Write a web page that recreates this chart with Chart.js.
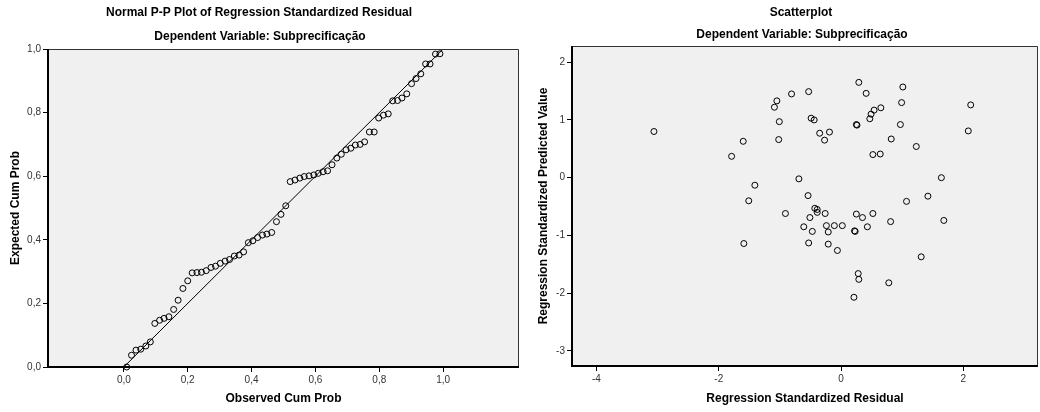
<!DOCTYPE html>
<html><head><meta charset="utf-8">
<script src="https://cdn.jsdelivr.net/npm/chart.js@4/dist/chart.umd.min.js"></script>
<style>
html,body{margin:0;padding:0;background:#fff;width:1040px;height:412px;overflow:hidden}
#wrapL{position:absolute;left:0;top:0;width:520px;height:412px}
#wrapR{position:absolute;left:520px;top:0;width:520px;height:412px}
</style></head><body>
<div id="wrapL"><canvas id="ppCanvas" width="520" height="412"></canvas></div>
<div id="wrapR"><canvas id="scCanvas" width="520" height="412"></canvas></div>
<script>
// ---------- text ----------
const ppTitle = 'Normal P-P Plot of Regression Standardized Residual';
const scTitle = 'Scatterplot';
const depVarTitle = 'Dependent Variable: Subprecificação';
const ppXTitle = 'Observed Cum Prob';
const ppYTitle = 'Expected Cum Prob';
const scXTitle = 'Regression Standardized Residual';
const scYTitle = 'Regression Standardized Predicted Value';

// ---------- P-P plot data ----------
const ppObserved = [0.009,0.024,0.038,0.053,0.069,0.083,0.097,0.112,0.126,0.141,0.156,0.170,0.185,0.200,0.214,0.229,0.243,0.258,0.273,0.287,0.302,0.317,0.331,0.346,0.361,0.375,0.390,0.404,0.419,0.434,0.448,0.463,0.478,0.492,0.507,0.521,0.536,0.551,0.565,0.580,0.595,0.609,0.624,0.638,0.652,0.667,0.681,0.696,0.711,0.725,0.740,0.754,0.769,0.784,0.798,0.813,0.828,0.842,0.857,0.871,0.886,0.901,0.915,0.930,0.945,0.959,0.976,0.990];
const ppExpected = [0.000,0.037,0.053,0.056,0.066,0.079,0.137,0.147,0.153,0.158,0.181,0.210,0.247,0.271,0.296,0.297,0.298,0.303,0.313,0.317,0.326,0.333,0.338,0.349,0.352,0.362,0.391,0.397,0.407,0.415,0.418,0.423,0.457,0.480,0.507,0.583,0.588,0.594,0.599,0.601,0.604,0.609,0.614,0.617,0.636,0.657,0.669,0.683,0.688,0.698,0.700,0.708,0.739,0.739,0.783,0.792,0.796,0.837,0.838,0.846,0.859,0.891,0.907,0.922,0.953,0.953,0.984,0.985];
const refLine = [0, 1];
const ppTicks = [0, 0.2, 0.4, 0.6, 0.8, 1.0];
const ppTickLabels = ['0,0','0,2','0,4','0,6','0,8','1,0'];

// ---------- Scatterplot data ----------
const residuals = [-3.06,0.29,1.01,-0.53,-0.81,0.41,-1.05,-1.09,2.12,0.99,0.65,0.54,0.49,0.47,-0.49,-0.44,-1.01,0.25,0.26,0.97,2.08,-0.19,-0.35,-1.60,-1.02,-0.27,0.82,1.23,-1.79,0.52,0.64,-0.69,1.64,-1.41,-1.51,1.42,-0.54,1.07,-0.91,-0.43,-0.39,-0.39,-0.26,-0.51,0.25,0.35,0.52,0.81,1.68,-0.61,-0.47,-0.24,-0.11,0.02,-0.21,0.22,0.23,0.43,-1.59,-0.53,-0.21,-0.06,1.31,0.28,0.29,0.78,0.21];
const predicted = [0.80,1.65,1.57,1.49,1.45,1.46,1.33,1.22,1.26,1.30,1.21,1.17,1.10,1.02,1.03,1.00,0.97,0.92,0.91,0.92,0.81,0.79,0.77,0.63,0.66,0.65,0.67,0.54,0.37,0.40,0.41,-0.02,0.00,-0.13,-0.40,-0.32,-0.31,-0.41,-0.62,-0.53,-0.55,-0.60,-0.62,-0.69,-0.63,-0.69,-0.62,-0.76,-0.74,-0.85,-0.93,-0.83,-0.83,-0.83,-0.94,-0.92,-0.93,-0.85,-1.14,-1.13,-1.15,-1.26,-1.37,-1.66,-1.76,-1.82,-2.07];
const scXTicks = [-4, -2, 0, 2];
const scXTickLabels = ['-4','-2','0','2'];
const scYTicks = [-3, -2, -1, 0, 1, 2];
const scYTickLabels = ['-3','-2','-1','0','1','2'];

// ---------- styling ----------
const FONT = "'Liberation Sans', Arial, Helvetica, sans-serif";
Chart.defaults.font.family = FONT;
Chart.defaults.devicePixelRatio = 1;

const framePlugin = {
  id: 'frame',
  beforeDraw(chart, args, opts) {
    const {ctx, chartArea: a} = chart;
    ctx.save();
    ctx.fillStyle = '#f0f0f0';
    ctx.fillRect(a.left, a.top, a.right - a.left, a.bottom - a.top);
    ctx.restore();
  },
  afterDraw(chart, args, opts) {
    const {ctx, chartArea: a} = chart;
    ctx.save();
    ctx.strokeStyle = '#333';
    ctx.lineWidth = 1;
    ctx.beginPath();
    ctx.moveTo(a.left, a.top + 0.5); ctx.lineTo(a.right - 0.5, a.top + 0.5); ctx.lineTo(a.right - 0.5, a.bottom);
    ctx.stroke();
    ctx.strokeStyle = '#000';
    ctx.lineWidth = 2;
    ctx.beginPath();
    ctx.moveTo(a.left, a.top); ctx.lineTo(a.left, a.bottom); ctx.lineTo(a.right, a.bottom);
    ctx.stroke();
    ctx.fillStyle = '#000';
    ctx.font = 'bold 12px ' + FONT;
    ctx.textAlign = 'center';
    ctx.textBaseline = 'middle';
    (opts.lines || []).forEach(l => ctx.fillText(l.text, l.x, l.y));
    ctx.restore();
  }
};

const tickFont = {size: 10, family: FONT};
const axisTitleFont = {size: 12, weight: 'bold', family: FONT};
const gridTicks = {display: true, drawOnChartArea: false, drawTicks: true, tickLength: 5, color: '#000', lineWidth: 1};

function setTicks(values) {
  return s => { s.ticks = values.map(v => ({value: v})); };
}
function fixX(h) {
  return s => { s.height = h; s.paddingLeft = 0; s.paddingRight = 0; };
}
function fixY(w) {
  return s => { s.width = w; s.paddingTop = 0; s.paddingBottom = 0; };
}

// ---------- P-P plot ----------
new Chart(document.getElementById('ppCanvas'), {
  type: 'scatter',
  data: {
    datasets: [
      {
        type: 'scatter',
        data: ppObserved.map((x, i) => ({x: x, y: ppExpected[i]})),
        pointStyle: 'circle', pointRadius: 3, pointBorderWidth: 1,
        pointBorderColor: '#000', pointBackgroundColor: 'rgba(0,0,0,0)',
        clip: false
      },
      {
        type: 'line',
        data: refLine.map(v => ({x: v, y: v})),
        borderColor: '#000', borderWidth: 1, pointRadius: 0, fill: false, tension: 0
      }
    ]
  },
  options: {
    responsive: false, animation: false, devicePixelRatio: 1,
    layout: {autoPadding: false, padding: {left: 0, right: 1, top: 49, bottom: 0}},
    plugins: {
      legend: {display: false}, tooltip: {enabled: false},
      frame: {lines: [{text: ppTitle, x: 259, y: 13}, {text: depVarTitle, x: 260, y: 37}]}
    },
    scales: {
      x: {
        type: 'linear', min: -0.2375, max: 1.2375,
        afterBuildTicks: setTicks(ppTicks),
        afterFit: fixX(45),
        ticks: {autoSkip: false, maxRotation: 0, padding: 2, color: '#333', font: tickFont,
                callback: (v, i) => ppTickLabels[i]},
        grid: gridTicks, border: {display: false},
        title: {display: true, text: ppXTitle, color: '#000', font: axisTitleFont, padding: {top: 0, bottom: 6}}
      },
      y: {
        type: 'linear', min: 0, max: 1,
        afterBuildTicks: setTicks(ppTicks),
        afterFit: fixY(48),
        ticks: {autoSkip: false, padding: 2, color: '#333', font: tickFont,
                callback: (v, i) => ppTickLabels[i]},
        grid: gridTicks, border: {display: false},
        title: {display: true, text: ppYTitle, color: '#000', font: axisTitleFont, padding: {top: 8, bottom: 0}}
      }
    }
  },
  plugins: [framePlugin]
});

// ---------- Scatterplot ----------
new Chart(document.getElementById('scCanvas'), {
  type: 'scatter',
  data: {
    datasets: [{
      data: residuals.map((x, i) => ({x: x, y: predicted[i]})),
      pointStyle: 'circle', pointRadius: 3, pointBorderWidth: 1,
      pointBorderColor: '#000', pointBackgroundColor: 'rgba(0,0,0,0)',
      clip: false
    }]
  },
  options: {
    responsive: false, animation: false, devicePixelRatio: 1,
    layout: {autoPadding: false, padding: {left: 0, right: 2, top: 46, bottom: 0}},
    plugins: {
      legend: {display: false}, tooltip: {enabled: false},
      frame: {lines: [{text: scTitle, x: 281, y: 13}, {text: depVarTitle, x: 282, y: 35}]}
    },
    scales: {
      x: {
        type: 'linear', min: -4.40, max: 3.22,
        afterBuildTicks: setTicks(scXTicks),
        afterFit: fixX(46),
        ticks: {autoSkip: false, maxRotation: 0, padding: 2, color: '#333', font: tickFont,
                callback: (v, i) => scXTickLabels[i]},
        grid: gridTicks, border: {display: false},
        title: {display: true, text: scXTitle, color: '#000', font: axisTitleFont, padding: {top: 0, bottom: 6}}
      },
      y: {
        type: 'linear', min: -3.26, max: 2.28,
        afterBuildTicks: setTicks(scYTicks),
        afterFit: fixY(52),
        ticks: {autoSkip: false, padding: 2, color: '#333', font: tickFont,
                callback: (v, i) => scYTickLabels[i]},
        grid: gridTicks, border: {display: false},
        title: {display: true, text: scYTitle, color: '#000', font: axisTitleFont, padding: {top: 16, bottom: 0}}
      }
    }
  },
  plugins: [framePlugin]
});
</script>
</body></html>
